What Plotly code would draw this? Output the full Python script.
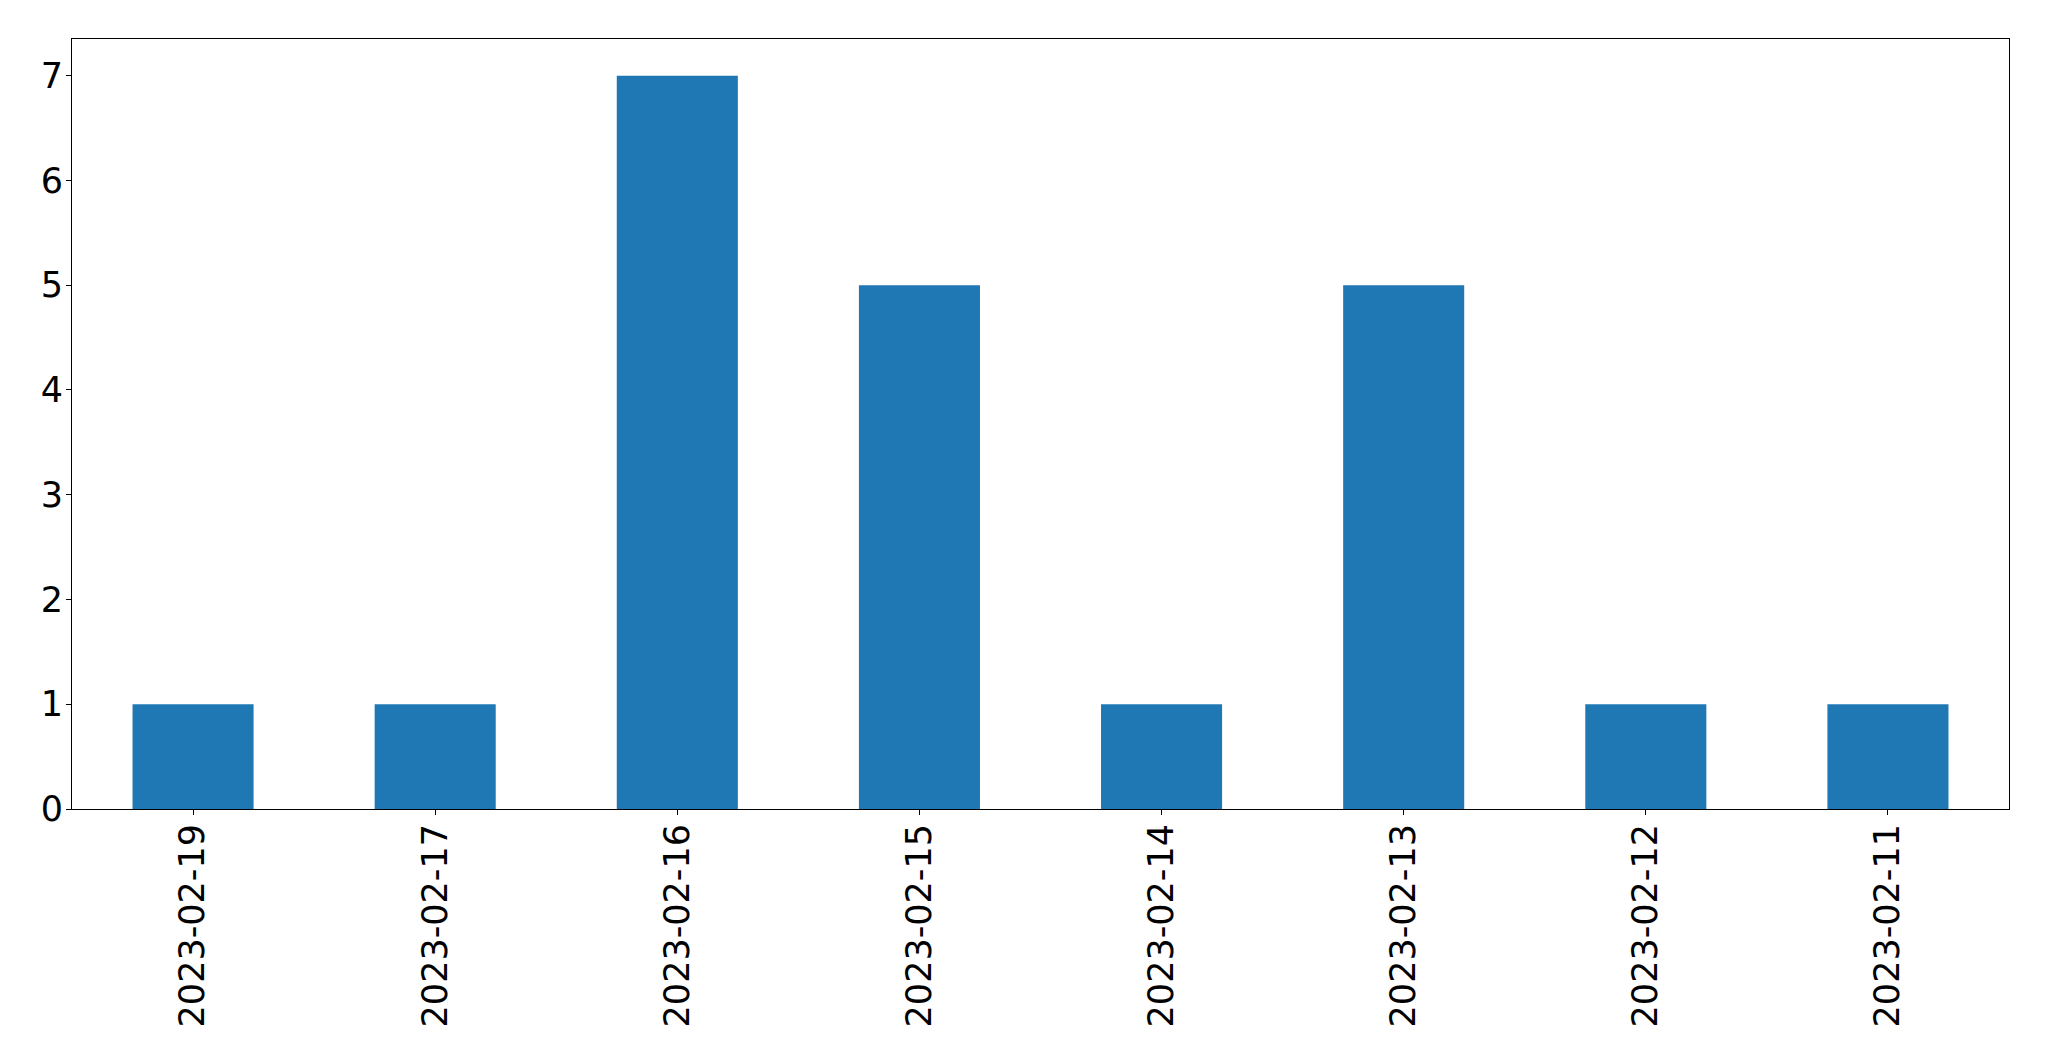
import plotly.graph_objects as go

dates = ["2023-02-19", "2023-02-17", "2023-02-16", "2023-02-15",
         "2023-02-14", "2023-02-13", "2023-02-12", "2023-02-11"]
counts = [1, 1, 7, 5, 1, 5, 1, 1]
y_ticks = [0, 1, 2, 3, 4, 5, 6, 7]

fig = go.Figure(go.Bar(x=dates, y=counts, marker=dict(color="#1f77b4", line=dict(width=0))))

font = dict(family="DejaVu Sans", size=35, color="black")
# page body has an 8px default margin; compensate so the plot lands where the reference has it
fig.update_layout(
    width=2033, height=1045,
    margin=dict(l=64, r=32, t=31, b=244, autoexpand=False),
    paper_bgcolor="white", plot_bgcolor="white",
    bargap=0.5, showlegend=False, font=font,
)
fig.update_xaxes(
    type="category", range=[-0.5, len(dates) - 0.5],
    showline=True, linecolor="black", linewidth=1, mirror=True,
    ticks="outside", ticklen=5, tickcolor="black", tickwidth=1,
    tickangle=-90, showgrid=False, tickfont=font, ticklabelstandoff=-5,
)
fig.update_yaxes(
    range=[0, 7.35], tickvals=y_ticks,
    showline=True, linecolor="black", linewidth=1, mirror=True,
    ticks="outside", ticklen=5, tickcolor="black", tickwidth=1,
    showgrid=False, zeroline=False, tickfont=font, ticklabelstandoff=-4,
)
fig.write_html("out.html")
